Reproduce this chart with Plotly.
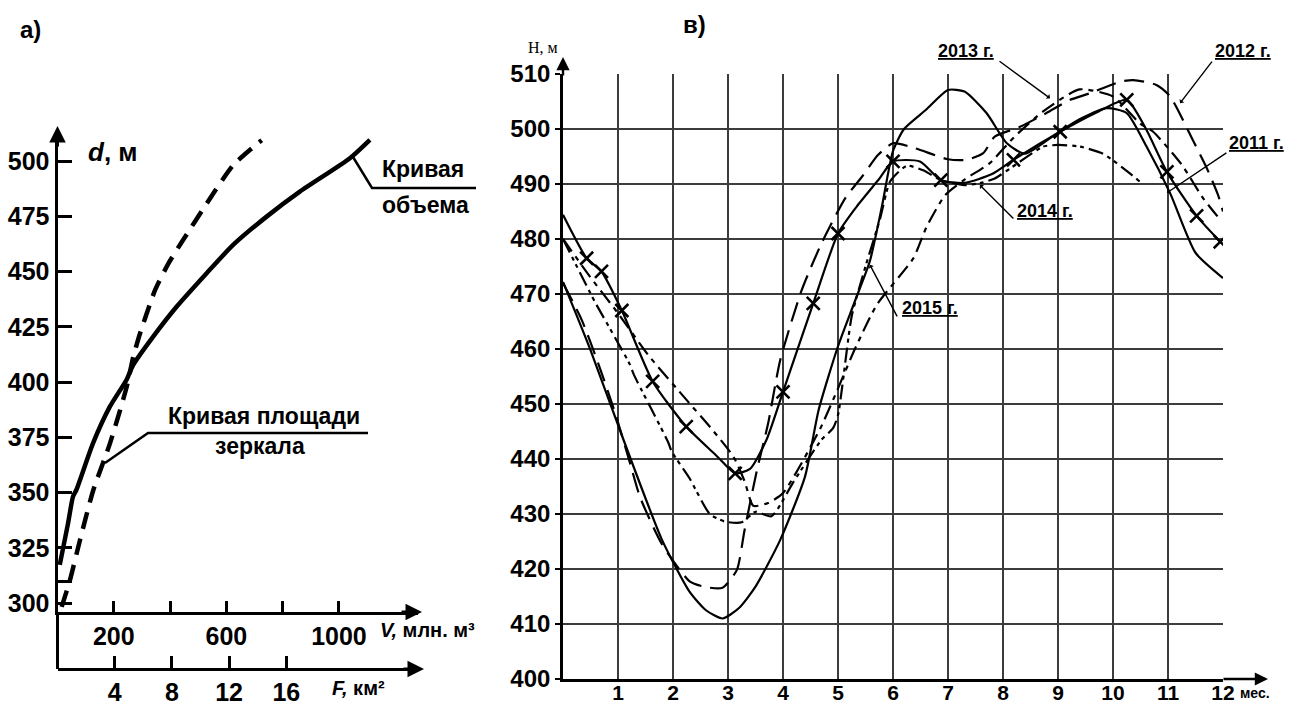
import plotly.graph_objects as go

W, H = 1298, 706
def X(px): return px / W
def Y(py): return 1 - py / H

FONT = "Liberation Sans, Arial, sans-serif"
SERIF = "Liberation Serif, Times New Roman, serif"

# ---------------- Left chart (а) data ----------------
vol_V = [8, 37.5, 55, 67, 126, 186, 245, 269, 340, 423, 530, 624, 743, 861, 1039, 1110]
vol_d = [317.3, 336.1, 348.2, 351.2, 372.3, 388.9, 401, 407.8, 420.6, 434.1, 449.3, 462.1, 474.9, 486.2, 501.3, 509.6]
area_F = [0.29, 0.87, 1.57, 2.5, 3.67, 4.84, 5.3, 5.77, 6.82, 7.75, 8.69, 10.43, 12.29, 14.28]
area_d = [298.3, 310.4, 328.5, 351.1, 372.3, 397.9, 411.5, 422, 441.6, 453.6, 463.4, 480.8, 498.2, 509.5]
V_ticks = [200, 400, 600, 800, 1000]
V_labels = ["200", "", "600", "", "1000"]
F_ticks = [4, 8, 12, 16]
F_labels = ["4", "8", "12", "16"]
d_ticks = [300, 310, 325, 350, 375, 400, 425, 450, 475, 500]
d_labels = ["300", "", "325", "350", "375", "400", "425", "450", "475", "500"]

# ---------------- Right chart (в) data ----------------
m_2011 = [0, 0.43, 0.70, 1.07, 1.63, 2.24, 2.8, 3.13, 3.4, 3.7, 4.0, 4.55, 5.0, 5.34, 5.73, 6.0, 6.49, 6.87,
          7.3, 7.8, 8.19, 9.04, 9.7, 10.25, 10.6, 10.98, 11.52, 11.95]
h_2011 = [484.4, 476.5, 474.1, 467.0, 454.1, 445.9, 440.5, 437.4, 438.2, 443.5, 452.2, 468.3, 481.0, 485.9,
          490.7, 494.1, 494.1, 490.7, 490.2, 491.8, 494.4, 499.5, 503.0, 505.3, 500.0, 492.2, 484.2, 479.5]
x_2011 = [0, 1, 1, 1, 1, 1, 0, 1, 0, 0, 1, 1, 1, 0, 0, 1, 0, 1, 0, 0, 1, 1, 0, 1, 0, 1, 1, 1]

m_2012 = [0, 0.34, 0.64, 0.95, 1.22, 1.4, 1.8, 2.31, 2.6, 2.9, 3.16, 3.3, 3.52, 3.73, 3.95, 4.34, 4.7,
          5.13, 5.45, 5.73, 6.0, 6.4, 7.0, 7.34, 7.64, 7.85, 8.31, 8.79, 9.22, 9.58, 10.13, 10.37, 10.79,
          11.04, 11.46, 11.7, 11.91, 12]
h_2012 = [472, 465.3, 457.4, 448.3, 439.2, 433.1, 424.5, 417.7, 416.7, 416.6, 419.8, 427, 437.7, 446.5,
          458, 470.7, 479.2, 487.4, 491.5, 495.3, 497.4, 496.5, 494.5, 494.4, 495.6, 498.6, 500.4, 502.9,
          505.3, 506.5, 508.6, 508.9, 508, 505.9, 497.8, 493, 488, 485]

m_2013 = [0, 0.48, 1.0, 1.55, 2.25, 2.7, 3.1, 3.3, 3.46, 3.73, 4.0, 4.68, 5.33, 5.71, 6.37, 6.61, 6.95,
          7.3, 7.76, 8.2, 8.73, 9.39, 10.0, 10.49, 10.73, 11.25, 11.64, 11.95]
h_2013 = [480, 473.3, 466.5, 458.9, 450.7, 445.5, 440.4, 436, 431.5, 432, 433.8, 445.6, 460.5, 468.1,
          476.5, 482.2, 488, 490.8, 493.8, 498.5, 503.2, 507.2, 505.9, 501, 499.5, 493.5, 487.4, 483.5]

m_2014 = [0, 0.49, 0.6, 1.21, 1.29, 1.91, 1.98, 2.3, 2.67, 2.95, 3.25, 3.5, 3.79, 4.2, 4.7, 4.91, 5.0,
          5.25, 5.5, 5.76, 5.95, 6.25, 6.55, 6.87, 7.3, 7.6, 7.85, 8.3, 8.73, 9.0, 9.4, 9.82, 10.31, 10.49]
h_2014 = [480, 470.3, 468.2, 457.3, 455.3, 443.1, 441.3, 436.5, 430, 428.6, 428.5, 430.4, 429.6, 436,
          443.5, 445.6, 448, 466, 475, 483.5, 490.5, 493.3, 492.5, 490.7, 489.8, 490.2, 491, 494, 496.8,
          497.1, 496.8, 495.5, 491.9, 490.4]

m_2015 = [0, 0.5, 1.1, 1.8, 2.3, 2.6, 2.9, 3.2, 3.5, 3.95, 4.4, 4.65, 5.0, 5.3, 5.58, 5.8, 6.0, 6.2,
          6.6, 7.0, 7.3, 7.7, 8.07, 8.4, 8.98, 9.4, 9.89, 10.25, 10.6, 11.04, 11.5, 12]
h_2015 = [472.2, 459.8, 443.5, 425.3, 415.9, 412.5, 411, 412.9, 416.8, 425.3, 436.8, 449, 460.5, 468.5,
          476, 486, 496, 500, 503.5, 507.1, 506.8, 502.9, 497.4, 495.5, 499.2, 501.8, 503.8, 502.9, 497,
          488.3, 477.5, 472.9]

month_ticks = list(range(1, 13))
H_ticks = list(range(400, 511, 10))

fig = go.Figure()

# Left chart traces
fig.add_trace(go.Scatter(x=vol_V, y=vol_d, xaxis="x", yaxis="y", mode="lines",
                         line=dict(color="black", width=4.5, shape="spline", smoothing=0.6)))
fig.add_trace(go.Scatter(x=area_F, y=area_d, xaxis="x2", yaxis="y", mode="lines",
                         line=dict(color="black", width=4.5, dash="17px,10px", shape="spline", smoothing=0.6)))

# Right chart traces
def right_line(m, h, dash, extra=None):
    d = dict(x=m, y=h, xaxis="x3", yaxis="y2", mode="lines",
             line=dict(color="black", width=2.2, dash=dash, shape="spline", smoothing=0.6))
    if extra:
        d.update(extra)
    fig.add_trace(go.Scatter(**d))

right_line(m_2015, h_2015, "solid")
right_line(m_2012, h_2012, "20px,9px")
right_line(m_2013, h_2013, "15px,6px,5px,6px")
right_line(m_2014, h_2014, "15px,5px,4px,4px,4px,5px")
right_line(m_2011, h_2011, "solid",
           dict(mode="lines+markers",
                marker=dict(symbol="x-thin-open", size=[13 if f else 0 for f in x_2011],
                            color="#000000", opacity=1,
                            line=dict(width=2.6, color="#000000"))))

tick_font_l = dict(family=FONT, size=25, color="black", weight="bold")

layout = dict(
    template="none",
    width=W, height=H, autosize=False, showlegend=False,
    margin=dict(l=0, r=0, t=0, b=0, pad=0, autoexpand=False),
    paper_bgcolor="white", plot_bgcolor="rgba(0,0,0,0)",
    xaxis=dict(domain=[X(57.5), X(418)], range=[0, (418 - 57.75) / 0.28125], anchor="y",
               tickvals=V_ticks, ticktext=V_labels, ticks="inside", ticklen=11, tickwidth=2.5,
               tickcolor="black", showline=True, linewidth=3, linecolor="black", automargin=False,
               showgrid=False, zeroline=False, tickfont=tick_font_l),
    xaxis2=dict(overlaying="x", anchor="free", position=Y(669), range=[0, (418 - 57.5) / 14.3],
                tickvals=F_ticks, ticktext=F_labels, ticks="inside", ticklen=12, tickwidth=2.5,
                tickcolor="black", showline=True, linewidth=3, linecolor="black", automargin=False,
                showgrid=False, zeroline=False, tickfont=tick_font_l),
    yaxis=dict(domain=[Y(612), Y(132)], range=[296, 296 + (612 - 132) / 2.21], anchor="x",
               tickvals=d_ticks, ticktext=d_labels, ticks="inside", ticklen=14, tickwidth=2.5,
               tickcolor="black", showline=True, linewidth=3, linecolor="black", automargin=False,
               showgrid=False, zeroline=False, tickfont=tick_font_l),
    xaxis3=dict(domain=[X(563), X(1223)], range=[0, 12], anchor="y2",
                tickvals=month_ticks, ticks="", showline=True, linewidth=2.6, linecolor="black",
                showgrid=True, gridcolor="#3c3c3c", gridwidth=1.5, zeroline=False, automargin=False,
                ticklabelstandoff=-7,
                tickfont=dict(family=FONT, size=21, color="black", weight="bold")),
    yaxis2=dict(domain=[Y(679), Y(74)], range=[400, 510], anchor="x3",
                tickvals=H_ticks, ticks="outside", ticklen=5, tickwidth=2, tickcolor="black",
                showline=True, linewidth=2.6, linecolor="black", automargin=False,
                showgrid=True, gridcolor="#3c3c3c", gridwidth=1.5, zeroline=False,
                tickfont=dict(family=FONT, size=24, color="black", weight="bold")),
)
fig.update_layout(**layout)

ann = []
def text(px, py, s, size, xanchor="center", family=FONT, bold=True):
    f = dict(family=family, size=size, color="black")
    if bold:
        f["weight"] = "bold"
    ann.append(dict(x=X(px), y=Y(py), xref="paper", yref="paper", text=s, showarrow=False,
                    xanchor=xanchor, yanchor="middle", font=f))

def arrow(px, py, ax, ay, width=3):
    ann.append(dict(x=X(px), y=Y(py), xref="paper", yref="paper", text="", showarrow=True,
                    ax=ax, ay=ay, arrowhead=2, arrowsize=1.1, arrowwidth=width, arrowcolor="black",
                    standoff=0, startstandoff=0))

# panel labels
text(18, 30, "а)", 24, "left")
text(695, 24, "в)", 24)
# left chart labels
text(86, 152, "<i>d</i>, м", 26, "left")
text(380, 169, "Кривая", 23, "left")
text(380, 205, "объема", 23, "left")
text(264, 416, "Кривая площади", 23)
text(260, 446, "зеркала", 23)
text(378, 630, "<i>V,</i> млн. м³", 20, "left")
text(330, 688, "<i>F,</i> км²", 20, "left")
# right chart labels
text(543, 48, "H, м", 16, family=SERIF, bold=False)
text(1238, 693, "мес.", 14, "left")
text(966, 51, "<u>2013 г.</u>", 18)
text(1243, 51, "<u>2012 г.</u>", 18)
text(1256, 143, "<u>2011 г.</u>", 18)
text(1045, 211, "<u>2014 г.</u>", 18)
text(930, 308, "<u>2015 г.</u>", 18)

# axis arrowheads
arrow(57.5, 126, 0, 22)
arrow(422, 612, -22, 0)
arrow(424, 669, -22, 0)
arrow(563, 57, 0, 20, 2.4)
arrow(1268, 679, -46, 0, 2.4)

# leaders to the yearly curves
def leader(m, h, ax, ay):
    ann.append(dict(x=m, y=h, xref="x3", yref="y2", text="", showarrow=True, ax=ax, ay=ay,
                    arrowhead=1, arrowsize=0.7, arrowwidth=1.4, arrowcolor="black",
                    standoff=0, startstandoff=0))

leader(8.855, 505.6, -52, -38)
leader(11.22, 504.7, 33, -43)
leader(10.98, 488.4, 61, -41)
leader(7.58, 489.8, 35, 35)
leader(5.58, 475.3, 28, 53)

shapes = [
    dict(type="line", xref="paper", yref="paper", x0=X(57.5), y0=Y(612), x1=X(57.5), y1=Y(669),
         line=dict(color="black", width=3)),
    dict(type="path", xref="paper", yref="paper",
         path=f"M {X(353)} {Y(157)} L {X(372)} {Y(188)} L {X(476)} {Y(188)}",
         line=dict(color="black", width=2.5)),
    dict(type="path", xref="paper", yref="paper",
         path=f"M {X(105)} {Y(463)} L {X(148)} {Y(433)} L {X(368)} {Y(433)}",
         line=dict(color="black", width=2.5)),
]
fig.update_layout(annotations=ann, shapes=shapes)

fig.write_html("out.html", config={"displayModeBar": False},
               post_script="document.body.style.margin='0';document.body.style.overflow='hidden';")
